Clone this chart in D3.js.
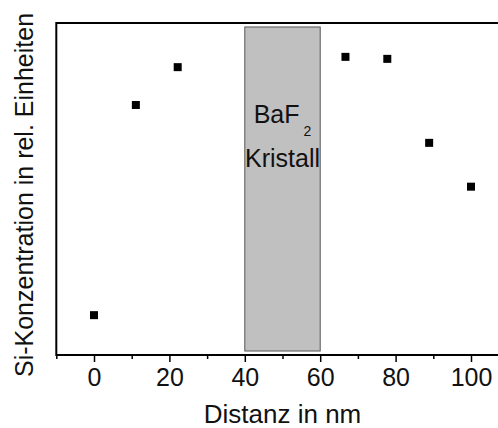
<!DOCTYPE html>
<html><head><meta charset="utf-8">
<script src="https://cdn.jsdelivr.net/npm/d3@7"></script>
<style>html,body{margin:0;padding:0;background:#fff;overflow:hidden}</style>
</head><body>
<script>
const distance = [0, 11.1, 22.2, 66.7, 77.8, 88.9, 100];
const concentration = [12.0, 75.3, 86.7, 89.8, 89.2, 63.9, 50.7];
const majorTicks = [0, 20, 40, 60, 80, 100];
const minorTicks = [-10, 10, 30, 50, 70, 90];
const crystalX = [40, 60];
const crystalY = [1.2, 98.8];
const xTitle = "Distanz in nm";
const yTitle = "Si-Konzentration in rel. Einheiten";

const W = 498, H = 428;
const font = "'Liberation Sans', Arial, sans-serif";
const svg = d3.select("body").append("svg").attr("width", W).attr("height", H);

const x = d3.scaleLinear().domain([-10, 110]).range([56.3, 508.7]);
const y = d3.scaleLinear().domain([0, 100]).range([355, 23]);

// crystal region
svg.append("rect")
  .attr("x", x(crystalX[0])).attr("y", y(crystalY[1]))
  .attr("width", x(crystalX[1]) - x(crystalX[0]))
  .attr("height", y(crystalY[0]) - y(crystalY[1]))
  .attr("fill", "#c0c0c0").attr("stroke", "#555").attr("stroke-width", 1);

const cx = x((crystalX[0] + crystalX[1]) / 2);
const t1 = svg.append("text").attr("x", cx).attr("y", 123.3)
  .attr("text-anchor", "middle").attr("font-family", font).attr("font-size", 25).attr("fill", "#111");
t1.append("tspan").text("BaF");
t1.append("tspan").attr("font-size", 14).attr("dy", 13).attr("dx", 4).text("2");
svg.append("text").attr("x", cx).attr("y", 166.7)
  .attr("text-anchor", "middle").attr("font-family", font).attr("font-size", 25).attr("fill", "#111")
  .text("Kristall");

// spines
svg.append("line").attr("x1", x(-10)).attr("x2", W).attr("y1", y(100)).attr("y2", y(100))
  .attr("stroke", "#000").attr("stroke-width", 2);
svg.append("line").attr("x1", x(-10)).attr("x2", x(-10)).attr("y1", y(100) - 1).attr("y2", y(0) + 1)
  .attr("stroke", "#000").attr("stroke-width", 2);

// bottom axis
const gx = svg.append("g").attr("transform", `translate(0,${y(0)})`)
  .call(d3.axisBottom(x).tickValues(majorTicks).tickSize(7).tickPadding(6).tickFormat(d3.format("d")));
gx.select(".domain").attr("stroke-width", 2).attr("d", `M${x(-10)},0H${W}`);
gx.selectAll(".tick line").attr("stroke-width", 1.5);
gx.selectAll(".tick text").attr("font-family", font).attr("font-size", 25).attr("fill", "#111");
const gm = svg.append("g").attr("transform", `translate(0,${y(0)})`)
  .call(d3.axisBottom(x).tickValues(minorTicks).tickSize(4).tickFormat(""));
gm.select(".domain").remove();
gm.selectAll(".tick line").attr("stroke-width", 1.5);

// data points
svg.append("g").selectAll("rect").data(distance).join("rect")
  .attr("x", (d) => x(d) - 4).attr("y", (d, i) => y(concentration[i]) - 4)
  .attr("width", 8).attr("height", 8).attr("fill", "#000");

// titles
svg.append("text").attr("x", x(50)).attr("y", 423)
  .attr("text-anchor", "middle").attr("font-family", font).attr("font-size", 26).attr("fill", "#111")
  .text(xTitle);
svg.append("text").attr("transform", `translate(33,${195}) rotate(-90)`)
  .attr("text-anchor", "middle").attr("font-family", font).attr("font-size", 25).attr("fill", "#111")
  .text(yTitle);
</script>
</body></html>
